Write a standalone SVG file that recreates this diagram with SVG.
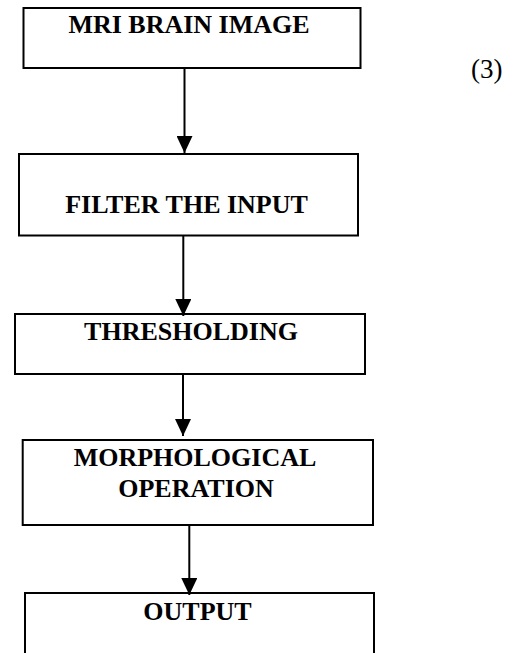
<svg xmlns="http://www.w3.org/2000/svg" width="515" height="653" viewBox="0 0 515 653">
<style>
.box{fill:#fff;stroke:#000;stroke-width:2}
.lbl{font-family:"Liberation Serif","Times New Roman",serif;font-weight:bold;font-size:26px;fill:#000;text-anchor:middle}
.edge{stroke:#000;stroke-width:2;fill:none}
</style>
<defs>
<marker id="ah" viewBox="0 0 17 16" refX="17" refY="8" markerWidth="17" markerHeight="16" markerUnits="userSpaceOnUse" orient="auto">
<path d="M0,0 L17,8 L0,16 Z" fill="#000"/>
</marker>
</defs>
<rect width="515" height="653" fill="#fff"/>
<g id="n1"><rect class="box" x="23.5" y="8" width="337" height="60"/><text class="lbl" x="189" y="33.3">MRI BRAIN IMAGE</text></g>
<g id="n2"><rect class="box" x="19" y="154" width="339" height="81.5"/><text class="lbl" x="186.5" y="213">FILTER THE INPUT</text></g>
<g id="n3"><rect class="box" x="15" y="314" width="350" height="60"/><text class="lbl" x="191" y="339.5">THRESHOLDING</text></g>
<g id="n4"><rect class="box" x="22.7" y="440" width="350.3" height="85"/><text class="lbl" x="195" y="466">MORPHOLOGICAL</text><text class="lbl" x="196" y="497">OPERATION</text></g>
<g id="n5"><rect class="box" x="25" y="593" width="349" height="80"/><text class="lbl" x="197.5" y="620">OUTPUT</text></g>
<g id="eq"><text x="471" y="78" font-family="Liberation Serif,serif" font-size="27" fill="#000">(3)</text></g>
<g id="edges">
<line class="edge" x1="184.5" y1="68" x2="184.5" y2="153" marker-end="url(#ah)"/>
<line class="edge" x1="183.3" y1="235.5" x2="183.3" y2="316" marker-end="url(#ah)"/>
<line class="edge" x1="183" y1="374" x2="183" y2="436" marker-end="url(#ah)"/>
<line class="edge" x1="189.3" y1="525" x2="189.3" y2="595" marker-end="url(#ah)"/>
</g>
</svg>
